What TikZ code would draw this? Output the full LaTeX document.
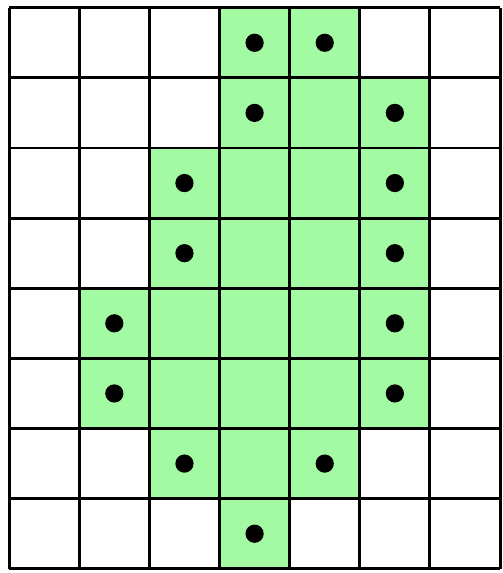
\documentclass[tikz,border=0pt]{standalone}
\usepackage{tikz}
\definecolor{cellgreen}{RGB}{162,250,162}

\begin{document}
\begin{tikzpicture}[
  x=1cm, y=1cm,
  filled/.style={fill=cellgreen},
  gridline/.style={draw=black, line width=1.2pt},
  marker/.style={fill=black}
]
\useasboundingbox (-0.13,-0.06) rectangle (7.04,8.11);
% green region, one row at a time (row, first column, last column)
\foreach \r/\a/\b in {7/3/4, 6/3/5, 5/2/5, 4/2/5, 3/1/5, 2/1/5, 1/2/4, 0/3/3}
  \fill[filled] (\a,\r) rectangle (\b+1,\r+1);
% grid
\draw[gridline] (0,0) grid (7,8);
% dots on the border cells
\foreach \c/\r in {3/7, 4/7, 3/6, 5/6, 2/5, 5/5, 2/4, 5/4, 1/3, 5/3, 1/2, 5/2, 2/1, 4/1, 3/0}
  \fill[marker] (\c+0.5,\r+0.5) circle (0.13);
\end{tikzpicture}
\end{document}
